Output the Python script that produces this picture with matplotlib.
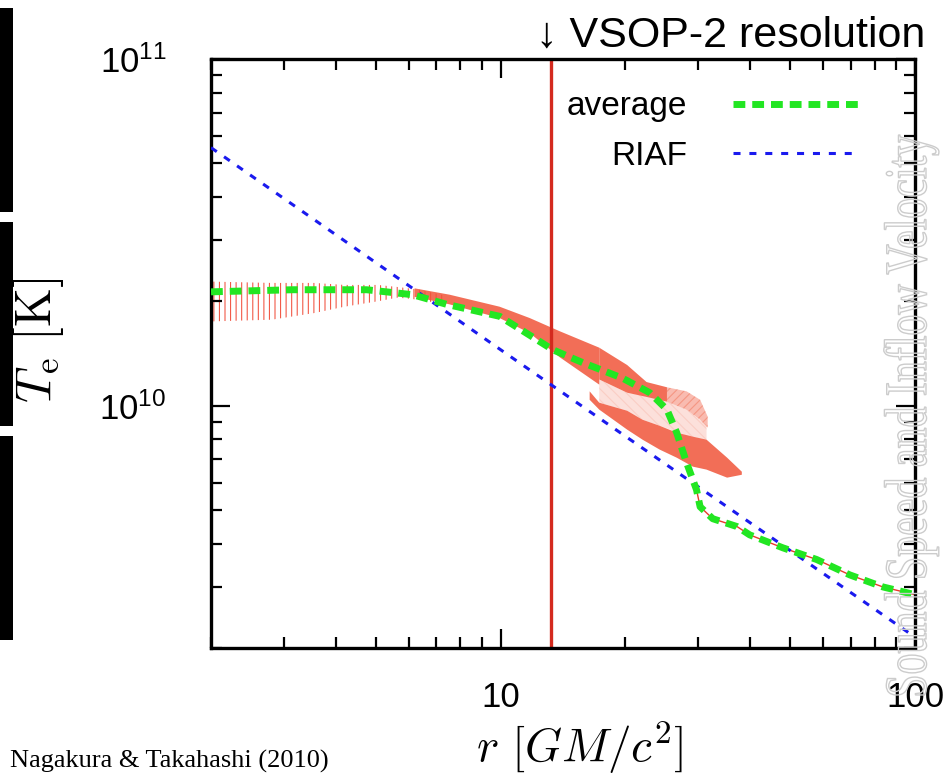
import matplotlib
matplotlib.use('Agg')
import matplotlib.pyplot as plt
from matplotlib.ticker import LogLocator, NullFormatter
from matplotlib.patches import Rectangle, PathPatch
from matplotlib.textpath import TextPath
from matplotlib.font_manager import FontProperties
from matplotlib.transforms import Affine2D, IdentityTransform

plt.rcParams['font.family'] = ['Liberation Sans', 'DejaVu Sans']
plt.rcParams['mathtext.fontset'] = 'custom'
plt.rcParams['mathtext.rm'] = 'Liberation Sans'
plt.rcParams['mathtext.it'] = 'Liberation Sans:italic'
plt.rcParams['hatch.linewidth'] = 0.8

# ---------------- data ----------------
# time-averaged electron temperature
r_avg = [2.0, 3.15, 4.75, 6.13, 7.41, 9.95, 13.36, 15.8, 19.7, 22.9, 25.2, 26.6,
         28.1, 29.7, 30.3, 32.5, 37.2, 39.9, 48.0, 57.9, 69.6, 83.7, 100.0]
T_avg = [2.13e10, 2.16e10, 2.16e10, 2.09e10, 1.96e10, 1.81e10, 1.45e10, 1.33e10,
         1.20e10, 1.09e10, 9.74e9, 8.36e9, 6.85e9, 5.72e9, 5.11e9, 4.72e9, 4.48e9,
         4.24e9, 3.89e9, 3.60e9, 3.25e9, 3.0e9, 2.85e9]

# RIAF model
r_riaf = [2.0, 10.0, 100.0]
T_riaf = [5.55e10, 1.45e10, 2.15e9]

# VSOP-2 resolution radius
r_vsop = 13.2

# snapshots envelope: inner oscillating band
r_band_in = [2.0, 2.80, 3.55, 4.20, 5.05, 5.64, 6.37, 7.32]
T_band_in_hi = [2.28e10, 2.26e10, 2.26e10, 2.23e10, 2.23e10, 2.20e10, 2.16e10, 2.08e10]
T_band_in_lo = [1.75e10, 1.77e10, 1.85e10, 1.93e10, 2.00e10, 2.05e10, 2.02e10, 1.96e10]

# snapshots envelope: main band
r_band = [6.20, 7.53, 9.94, 11.75, 13.88, 17.3]
T_band_hi = [2.18e10, 2.09e10, 1.93e10, 1.79e10, 1.64e10, 1.47e10]
T_band_lo = [2.06e10, 1.96e10, 1.79e10, 1.62e10, 1.38e10, 1.15e10]

# upper lobe
r_up = [17.3, 20.2, 22.5, 25.2, 28.1, 30.3, 31.6]
T_up_hi = [1.47e10, 1.31e10, 1.17e10, 1.13e10, 1.10e10, 1.04e10, 9.30e9]
T_up_lo = [1.19e10, 1.09e10, 1.06e10, 1.027e10, 9.74e9, 9.11e9, 8.64e9]

# sparse region between lobes
r_mid = [17.3, 20.2, 22.0, 25.2, 28.1, 31.4]
T_mid_hi = [1.19e10, 1.09e10, 1.07e10, 1.027e10, 9.74e9, 8.8e9]
T_mid_lo = [1.02e10, 9.67e9, 9.11e9, 8.6e9, 8.19e9, 7.98e9]

# lower lobe
r_lo = [16.4, 17.3, 20.2, 22.0, 24.2, 26.6, 29.1, 31.4, 35.2, 38.2]
T_lo_hi = [1.10e10, 1.02e10, 9.67e9, 9.11e9, 8.75e9, 8.36e9, 8.14e9, 7.98e9, 7.08e9, 6.45e9]
T_lo_lo = [1.04e10, 9.74e9, 8.53e9, 7.98e9, 7.47e9, 7.08e9, 6.67e9, 6.54e9, 6.20e9, 6.32e9]

xticks = [10, 100]
xticklabels = ['10', '100']
yticks = [1e10, 1e11]
yticklabels = [r'$10^{10}$', r'$10^{11}$']

# ---------------- figure ----------------
W, H = 949, 778
fig = plt.figure(figsize=(W / 100, H / 100), dpi=100)
ax = fig.add_axes([211 / W, 1 - 648 / H, (915 - 211) / W, (648 - 59) / H])
ax.set_xscale('log')
ax.set_yscale('log')
ax.set_xlim(2, 100)
ax.set_ylim(2e9, 1e11)

red = '#f0553a'
ax.fill_between(r_band_in, T_band_in_lo, T_band_in_hi, facecolor='none',
                edgecolor='#f25a48', hatch='|||', linewidth=0, zorder=1)
ax.fill_between(r_band, T_band_lo, T_band_hi, facecolor=red, alpha=0.85,
                linewidth=0, zorder=1)
ax.fill_between(r_up, T_up_lo, T_up_hi, where=[r <= 25.2 for r in r_up],
                facecolor=red, alpha=0.85, linewidth=0, zorder=1)
ax.fill_between(r_up, T_up_lo, T_up_hi, where=[r >= 25.2 for r in r_up],
                facecolor=red, alpha=0.4, edgecolor='#f06040', hatch='////',
                linewidth=0, zorder=1)
ax.fill_between(r_mid, T_mid_lo, T_mid_hi, facecolor=red, alpha=0.18,
                edgecolor='#f27a60', hatch='\\\\\\', linewidth=0, zorder=1)
ax.fill_between(r_lo, T_lo_lo, T_lo_hi, facecolor=red, alpha=0.85,
                linewidth=0, zorder=1)
ax.plot(r_avg[13:], T_avg[13:], color='#e83a2a', lw=1.0, zorder=1.5)

ax.axvline(r_vsop, color='#d42a1e', lw=2.4, zorder=2)

l_riaf, = ax.plot(r_riaf, T_riaf, color='#1a1aee', lw=2.2, dashes=(2.3, 2.9),
                  zorder=3, label='RIAF')
l_avg, = ax.plot(r_avg, T_avg, color='#22e622', lw=5, dashes=(1.7, 1.0),
                 zorder=4, label='average')

ax.set_xticks(xticks, xticklabels)
ax.set_yticks(yticks, yticklabels)
ax.xaxis.set_minor_locator(LogLocator(base=10, subs=range(2, 10)))
ax.yaxis.set_minor_locator(LogLocator(base=10, subs=range(2, 10)))
ax.xaxis.set_minor_formatter(NullFormatter())
ax.yaxis.set_minor_formatter(NullFormatter())
ax.tick_params(which='both', direction='in', top=True, right=True, width=1.6)
ax.tick_params(which='major', length=14, labelsize=25)
ax.tick_params(which='minor', length=8)
ax.tick_params(axis='x', which='major', pad=24)
ax.tick_params(axis='y', which='major', pad=32)
for s in ax.spines.values():
    s.set_linewidth(2.4)

ax.legend(handles=[l_avg, l_riaf], loc='upper right', bbox_to_anchor=(0.922, 0.945),
          frameon=False, markerfirst=False, fontsize=24, handlelength=3.8,
          handletextpad=1.4, labelspacing=0.55, borderaxespad=0, borderpad=0)

fig.text(38 / W, 1 - 340 / H, r'$T_{\rm e}\ [{\rm K}]$', rotation=90, ha='center',
         va='center', fontsize=36, math_fontfamily='cm')
fig.text(580 / W, 1 - 748 / H, r'$r\ [GM/c^2]$', ha='center', va='center',
         fontsize=34, math_fontfamily='cm')
fig.text(536 / W, 1 - 36 / H, '\u2193 VSOP-2 resolution', ha='left', va='center',
         fontsize=31)
fig.text(10 / W, 1 - 750 / H, 'Nagakura & Takahashi (2010)', ha='left', va='top',
         fontsize=19, family='Liberation Serif')

# slide edge bars on the left
for y0, y1 in [(8, 212), (222, 426), (436, 640)]:
    fig.add_artist(Rectangle((0, 1 - y1 / H), 13 / W, (y1 - y0) / H,
                             transform=fig.transFigure, facecolor='black',
                             edgecolor='none'))

# faint ghost outline text on the right
tp = TextPath((0, 0), 'Sound Speed and Inflow Velocity', size=1,
              prop=FontProperties(family='Liberation Serif'))
bb = tp.get_extents()
sx = 560 / bb.width
sy = 60
tr = Affine2D().translate(-bb.x0, 0).scale(sx, sy).rotate_deg(90).translate(926, H - 695)
fig.add_artist(PathPatch(tp, transform=tr + IdentityTransform(), facecolor='none',
                         edgecolor='#cccccc', lw=1.0, zorder=10))

fig.savefig('out.png', dpi=100)
